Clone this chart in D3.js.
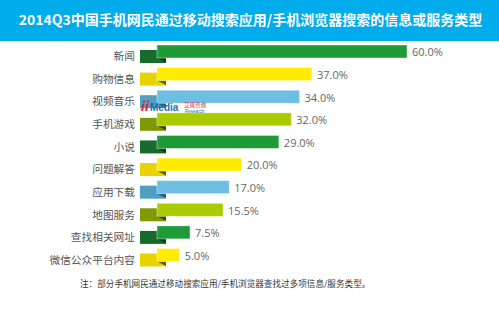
<!DOCTYPE html>
<html>
<head>
<meta charset="utf-8">
<script src="https://cdn.jsdelivr.net/npm/d3@7"></script>
<style>
  html, body { margin: 0; padding: 0; background: #fff; }
  svg { display: block; font-family: "Noto Sans CJK SC", "Noto Sans", sans-serif; }
</style>
</head>
<body>
<div id="chart"></div>
<script>
// Data
const categories = ['新闻', '购物信息', '视频音乐', '手机游戏', '小说', '问题解答', '应用下载', '地图服务', '查找相关网址', '微信公众平台内容'];
const values = [60.0, 37.0, 34.0, 32.0, 29.0, 20.0, 17.0, 15.5, 7.5, 5.0];
const valueLabels = ['60.0%', '37.0%', '34.0%', '32.0%', '29.0%', '20.0%', '17.0%', '15.5%', '7.5%', '5.0%'];
const titleText = '2014Q3中国手机网民通过移动搜索应用/手机浏览器搜索的信息或服务类型';
const noteText = '注：部分手机网民通过移动搜索应用/手机浏览器查找过多项信息/服务类型。';

// colour cycle: main bar, side tab, fold shadow
const palette = [
    { main: '#1e9b37', tab: '#176b2b', fold: '#0d3d17' },
    { main: '#ffec00', tab: '#e8d300', fold: '#6b6100' },
    { main: '#6cbfe2', tab: '#4f9fc2', fold: '#2a5f78' },
    { main: '#a9cb00', tab: '#7f9900', fold: '#3c4a00' }
];

const W = 499, H = 314;
const barStart = 157;

const svg = d3.select('#chart')
    .append('svg')
    .attr('width', W)
    .attr('height', H);

// Title band
svg.append('rect')
    .attr('x', 0).attr('y', 0)
    .attr('width', W).attr('height', 41)
    .attr('fill', '#00acec');

svg.append('text')
    .attr('x', W / 2 + 1)
    .attr('y', 25)
    .attr('text-anchor', 'middle')
    .attr('fill', '#fff')
    .style('font-size', '14px')
    .style('font-weight', 'bold')
    .text(titleText);

// Scales
const y = d3.scaleBand()
    .domain(categories)
    .range([45, 261.5])
    .paddingInner(0.425)
    .paddingOuter(0);

const x = d3.scaleLinear()
    .domain([0, 60])
    .range([159, 407]);

const rows = svg.selectAll('.row')
    .data(categories)
    .enter()
    .append('g')
    .attr('class', 'row')
    .attr('transform', d => `translate(0,${y(d)})`);

const bh = y.bandwidth();

// side tab
rows.append('rect')
    .attr('x', 140)
    .attr('y', 5)
    .attr('width', 26)
    .attr('height', bh)
    .attr('fill', (d, i) => palette[i % 4].tab);

// fold shadow
rows.append('path')
    .attr('d', `M${barStart},${bh} L166,${bh} L166,${bh + 4.5} Z`)
    .attr('fill', (d, i) => palette[i % 4].fold);

// main bar
rows.append('rect')
    .attr('x', barStart)
    .attr('y', 0)
    .attr('width', (d, i) => x(values[i]) - barStart)
    .attr('height', bh)
    .attr('fill', (d, i) => palette[i % 4].main)
    .attr('stroke', '#ffffff')
    .attr('stroke-opacity', 0.5)
    .attr('stroke-width', 0.8);

// category labels
rows.append('text')
    .attr('x', 135)
    .attr('y', 11.5)
    .attr('dy', '0.35em')
    .attr('text-anchor', 'end')
    .attr('fill', '#555')
    .style('font-size', '10.7px')
    .text(d => d);

// value labels
rows.append('text')
    .attr('x', (d, i) => x(values[i]) + 5)
    .attr('y', 7.5)
    .attr('dy', '0.35em')
    .attr('fill', '#666')
    .style('font-size', '11px')
    .style('font-family', '"Open Sans", "DejaVu Sans", sans-serif')
    .text((d, i) => valueLabels[i]);

// watermark logo
const logo = svg.append('g').attr('transform', 'translate(140,111)');
logo.append('text')
    .attr('x', 0).attr('y', 0)
    .attr('fill', '#e6212a')
    .style('font-size', '13px')
    .style('font-weight', 'bold')
    .style('font-style', 'italic')
    .text('ii');
logo.append('text')
    .attr('x', 10).attr('y', 0)
    .attr('fill', '#1a6fb5')
    .style('font-size', '10px')
    .style('font-weight', 'bold')
    .style('font-family', '"Liberation Sans", sans-serif')
    .text('Media');
logo.append('text')
    .attr('x', 44).attr('y', -4.5)
    .attr('fill', '#e6212a')
    .style('font-size', '5.5px')
    .text('艾媒咨询');
logo.append('text')
    .attr('x', 45).attr('y', 1.5)
    .attr('fill', '#1a6fb5')
    .style('font-size', '4.5px')
    .style('font-family', '"Liberation Sans", sans-serif')
    .text('Research');

// footnote
svg.append('text')
    .attr('x', 80)
    .attr('y', 287)
    .attr('fill', '#333')
    .style('font-size', '8.6px')
    .text(noteText);
</script>
</body>
</html>
